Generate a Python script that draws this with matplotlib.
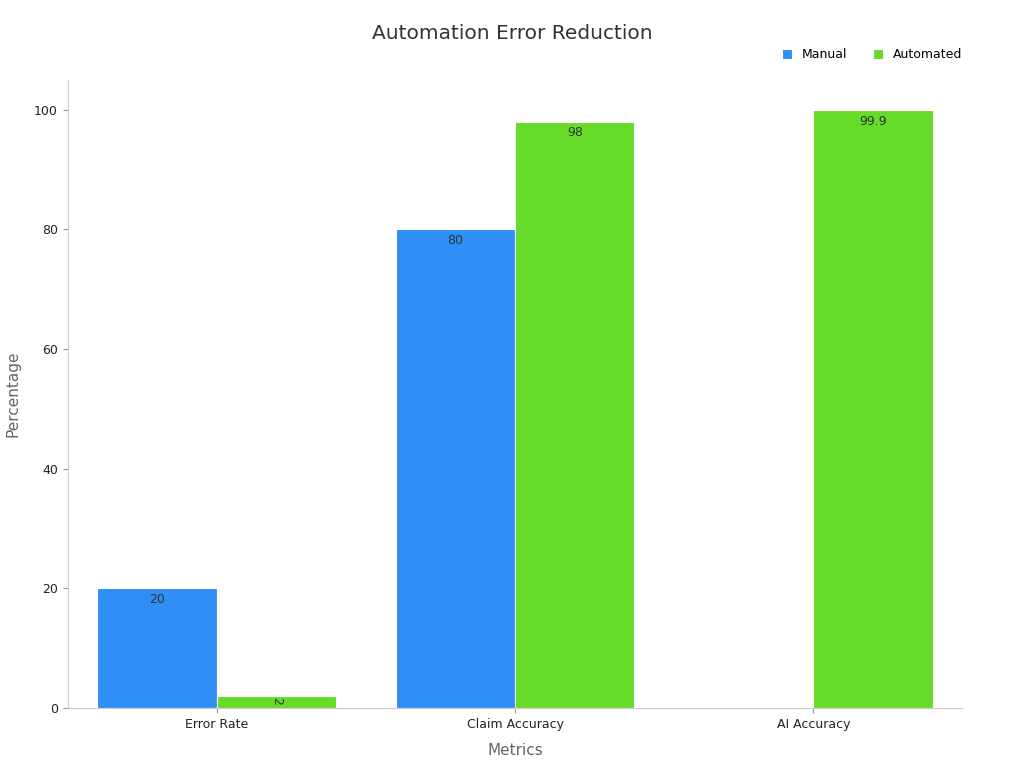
import matplotlib.pyplot as plt
import numpy as np

categories = ['Error Rate', 'Claim Accuracy', 'AI Accuracy']
manual = [20, 80, 0]
automated = [2, 98, 99.9]
manual_labels = ['20', '80', '']
automated_labels = ['2', '98', '99.9']

fig = plt.figure(figsize=(10.24, 7.68), dpi=100)
ax = fig.add_axes([0.066, 0.078, 0.874, 0.818])

x = np.arange(len(categories))
w = 0.4
b1 = ax.bar(x - w / 2, manual, w, color='#2F8FF7', edgecolor='white', linewidth=0.8, label='Manual')
b2 = ax.bar(x + w / 2, automated, w, color='#66DB29', edgecolor='white', linewidth=0.8, label='Automated')

for rect, lab in zip(b1, manual_labels):
    if lab:
        ax.text(rect.get_x() + rect.get_width() / 2, rect.get_height() - 0.7, lab,
                ha='center', va='top', fontsize=9, color='#333333')
for rect, lab in zip(b2, automated_labels):
    h = rect.get_height()
    if h < 5:
        ax.text(rect.get_x() + rect.get_width() / 2, h - 0.2, lab, ha='center', va='top',
                fontsize=9, color='#333333', rotation=-90)
    else:
        ax.text(rect.get_x() + rect.get_width() / 2, h - 0.7, lab,
                ha='center', va='top', fontsize=9, color='#333333')

ax.set_xlim(-0.5, 2.5)
ax.set_ylim(0, 105)
ax.set_yticks([0, 20, 40, 60, 80, 100])
ax.set_xticks(x)
ax.set_xticklabels(categories)
ax.tick_params(labelsize=9, colors='#222222')
ax.tick_params(axis='both', color='#999999')
for s in ['top', 'right']:
    ax.spines[s].set_visible(False)
for s in ['left', 'bottom']:
    ax.spines[s].set_color('#cccccc')

ax.set_xlabel('Metrics', fontsize=11, color='#666666', labelpad=9)
ax.set_ylabel('Percentage', fontsize=11, color='#666666', labelpad=10)
fig.text(0.5, 0.957, 'Automation Error Reduction', ha='center', va='center', fontsize=14.5, color='#333333')
ax.legend(loc='upper right', bbox_to_anchor=(1.012, 1.068), ncol=2, frameon=False, fontsize=9,
          handlelength=0.8, handleheight=0.8, columnspacing=2)

fig.savefig('out.png', dpi=100)
